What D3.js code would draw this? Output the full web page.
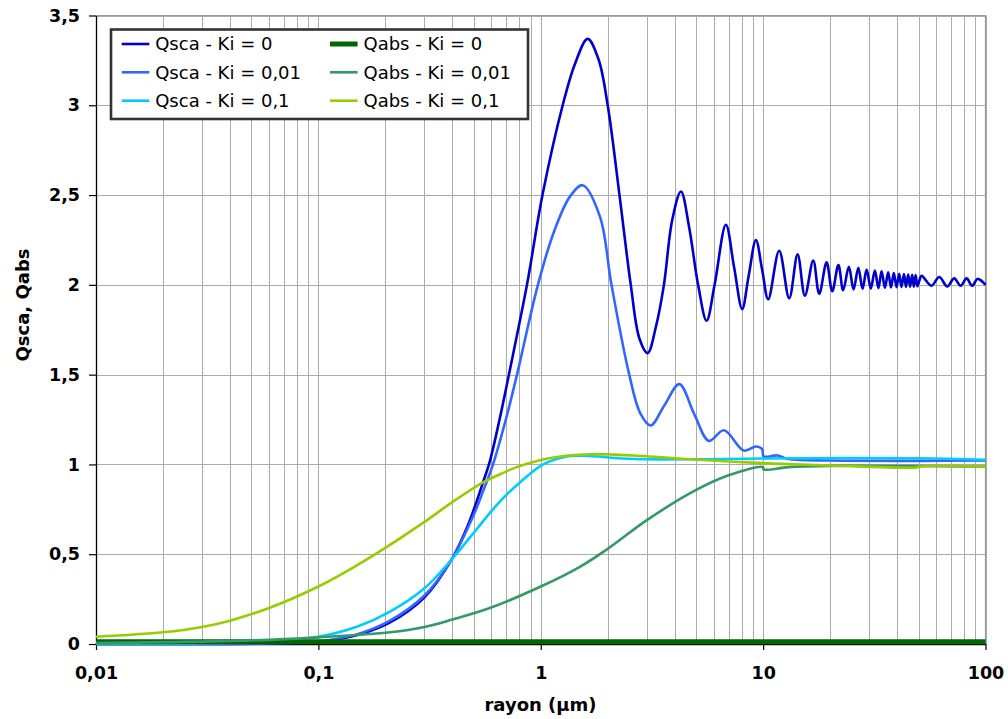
<!DOCTYPE html>
<html><head><meta charset="utf-8">
<script src="https://cdn.jsdelivr.net/npm/d3@7"></script>
<style>body{margin:0;background:#fff} text{font-family:"DejaVu Sans",Verdana,sans-serif}</style>
</head><body><svg id="c" width="1008" height="719"></svg>
<script>
// ---- data ----
const rQsca0 = [0.01,0.03,0.06,0.1,0.15,0.21,0.3,0.397,0.47,0.55,0.591,0.65,0.719,0.867,1.018,1.255,1.425,1.625,1.82,2.0,2.26,2.54,2.78,3.025,3.3,3.58,3.9,4.27,4.65,5.1,5.57,6.05,6.80,7.4,8.05,8.6,9.28,9.9,10.54,11.81,13.10,14.29,15.41,16.80,17.87,19.30,20.45,21.8,22.9,24.3,25.5,26.8,28.0,29.2,30.5,31.8,33.0,34.1,35.3,36.5,37.6,38.7,39.8,40.9,41.9,43.0,43.9,44.9,45.8,46.8,47.6,48.5,49.4,50.3,51.6,57.2,61.9,67.3,72.3,77.3,82.2,87.1,92.1,100];
const qsca0  = [0,0.0005,0.003,0.012,0.05,0.12,0.26,0.47,0.66,0.9,1.02,1.24,1.5,2.0,2.5,3.0,3.23,3.37,3.255,3.0,2.5,2.0,1.70,1.62,1.77,2.0,2.36,2.52,2.32,2.0,1.80,2.0,2.335,2.10,1.865,2.047,2.25,2.084,1.92,2.19,1.925,2.17,1.94,2.136,1.95,2.125,1.964,2.11,1.97,2.10,1.975,2.095,1.978,2.085,1.98,2.08,1.982,2.075,1.984,2.07,1.986,2.066,1.987,2.062,1.988,2.06,1.989,2.058,1.99,2.056,1.99,2.054,1.992,2.02,2.05,1.995,2.044,1.991,2.036,1.995,2.036,1.995,2.033,2.0];

const rQsca001 = [0.01,0.03,0.06,0.1,0.15,0.21,0.3,0.397,0.5,0.55,0.61,0.7,0.782,0.971,1.15,1.35,1.543,1.846,2.08,2.5,2.8,3.12,3.6,4.2,4.9,5.7,6.66,8.2,9.28,9.9,10.05,11.6,13.0,20,50,100];
const qsca001  = [0,0.0006,0.004,0.015,0.055,0.13,0.27,0.47,0.72,0.85,1.0,1.26,1.5,2.0,2.3,2.49,2.555,2.38,2.0,1.5,1.286,1.217,1.33,1.447,1.28,1.131,1.19,1.077,1.10,1.085,1.045,1.05,1.03,1.022,1.02,1.022];

const rQsca01 = [0.01,0.03,0.06,0.1,0.15,0.21,0.3,0.397,0.5,0.6,0.7,0.806,1.026,1.307,1.553,2.61,5.3,10,50,100];
const qsca01  = [0,0.003,0.015,0.04,0.097,0.18,0.31,0.47,0.62,0.74,0.83,0.9,1.0,1.044,1.048,1.03,1.029,1.033,1.034,1.026];

const rQabs0 = [0.01,0.1,1,10,100];
const qabs0  = [0.012,0.012,0.012,0.012,0.012];

const rQabs001 = [0.01,0.05,0.1,0.21,0.3,0.397,0.59,1.0,1.5,2.0,3.0,5.0,7.1,9.98,10.05,13,20,100];
const qabs001  = [0.005,0.02,0.037,0.065,0.095,0.135,0.2,0.32,0.43,0.53,0.69,0.858,0.942,0.985,0.972,0.985,0.992,0.988];

const rQabs01 = [0.01,0.02,0.03,0.04,0.06,0.1,0.15,0.2,0.3,0.4,0.55,0.656,0.78,1.0,1.3,1.67,2.6,5.3,10,20,49,50.5,100];
const qabs01  = [0.04,0.065,0.095,0.13,0.2,0.32,0.44,0.535,0.68,0.79,0.9,0.945,0.985,1.025,1.048,1.057,1.05,1.025,1.007,0.994,0.983,0.988,0.988];

const seriesNames = ["Qsca - Ki = 0","Qsca - Ki = 0,01","Qsca - Ki = 0,1","Qabs - Ki = 0","Qabs - Ki = 0,01","Qabs - Ki = 0,1"];
const seriesColors = ["#0000cc","#3366ff","#00ccff","#006600","#339966","#99cc00"];
const seriesWidths = [2.6,2.6,2.6,5,2.6,2.6];

const xTicks = [0.01,0.1,1,10,100];
const xTickLabels = ["0,01","0,1","1","10","100"];
const yTicks = [0,0.5,1,1.5,2,2.5,3,3.5];
const yTickLabels = ["0","0,5","1","1,5","2","2,5","3","3,5"];
const xTitle = "rayon (µm)";
const yTitle = "Qsca, Qabs";

const series = [
  [rQsca0,qsca0],[rQsca001,qsca001],[rQsca01,qsca01],
  [rQabs0,qabs0],[rQabs001,qabs001],[rQabs01,qabs01]
].map((s,i)=>({name:seriesNames[i],color:seriesColors[i],width:seriesWidths[i],
  pts:s[0].map((r,j)=>[r,s[1][j]])}));

// ---- chart ----
const L=96,R=985.5,T=15.5,B=644;
const svg=d3.select('#c');
const x=d3.scaleLog().domain([0.01,100]).range([L,R]);
const y=d3.scaleLinear().domain([0,3.5]).range([B,T]);

// grid
const g=svg.append('g');
g.selectAll('line.vg').data(x.ticks()).join('line')
  .attr('x1',d=>Math.round(x(d))+0.5).attr('x2',d=>Math.round(x(d))+0.5)
  .attr('y1',T).attr('y2',B).attr('stroke','#ababab').attr('stroke-width',1);
g.selectAll('line.hg').data(yTicks).join('line')
  .attr('y1',d=>Math.round(y(d))+0.5).attr('y2',d=>Math.round(y(d))+0.5)
  .attr('x1',L).attr('x2',R).attr('stroke','#ababab').attr('stroke-width',1);
svg.append('line').attr('x1',R).attr('x2',R).attr('y1',T).attr('y2',B).attr('stroke','#999').attr('stroke-width',1.2);
svg.append('line').attr('x1',L).attr('x2',R).attr('y1',T).attr('y2',T).attr('stroke','#999').attr('stroke-width',1.2);

// axes
const fsTick=17.5;
const ax=svg.append('g').attr('transform',`translate(0,${B})`)
  .call(d3.axisBottom(x).tickValues(xTicks).tickFormat((d,i)=>xTickLabels[i]).tickSize(6).tickPadding(17).tickSizeOuter(0));
const ay=svg.append('g').attr('transform',`translate(${L},0)`)
  .call(d3.axisLeft(y).tickValues(yTicks).tickFormat((d,i)=>yTickLabels[i]).tickSize(7).tickPadding(9).tickSizeOuter(0));
[ax,ay].forEach(a=>{
  a.selectAll('path').attr('stroke','#000').attr('stroke-width',1.3);
  a.selectAll('line').attr('stroke','#000').attr('stroke-width',1.2);
  a.selectAll('text').attr('font-family','"DejaVu Sans",Verdana,sans-serif').attr('font-size',fsTick).attr('font-weight','bold').attr('fill','#000');
});

// lines
const line=d3.line().x(d=>x(d[0])).y(d=>y(d[1])).curve(d3.curveCatmullRom.alpha(0.5));
svg.append('g').selectAll('path').data(series).join('path')
  .attr('d',d=>line(d.pts)).attr('fill','none')
  .attr('stroke',d=>d.color).attr('stroke-width',d=>d.width)
  .attr('stroke-linejoin','round');

// titles
svg.append('text').attr('x',540.5).attr('y',711).attr('text-anchor','middle')
  .attr('font-size',18).attr('font-weight','bold').text(xTitle);
svg.append('text').attr('transform','translate(29,305) rotate(-90)').attr('text-anchor','middle')
  .attr('font-size',18).attr('font-weight','bold').text(yTitle);

// legend
const lg=svg.append('g');
lg.append('rect').attr('x',111).attr('y',29.5).attr('width',417).attr('height',89.5)
  .attr('fill','#fff').attr('stroke','#333').attr('stroke-width',2.6);
const rowY=[44,72.3,100.7], colX=[121.7,330];
series.forEach((s,i)=>{
  const c=Math.floor(i/3), r=i%3;
  lg.append('line').attr('x1',colX[c]).attr('x2',colX[c]+27.6).attr('y1',rowY[r]).attr('y2',rowY[r])
    .attr('stroke',s.color).attr('stroke-width',s.width);
  lg.append('text').attr('x',colX[c]+33.5).attr('y',rowY[r]).attr('dy','0.36em')
    .attr('font-size',18).text(s.name);
});
</script></body></html>
